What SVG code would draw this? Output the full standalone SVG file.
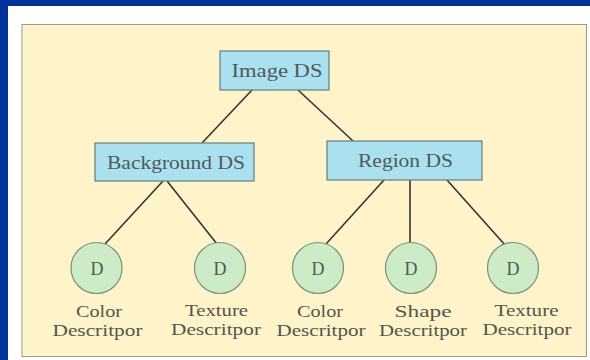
<svg xmlns="http://www.w3.org/2000/svg" width="590" height="360" viewBox="0 0 590 360">
<style>
.box{fill:#abe0ee;stroke:#5f7f86;stroke-width:1.2}
.circ{fill:#cdebc6;stroke:#7a8f80;stroke-width:1.2}
.t{font-family:"Liberation Serif","Times New Roman",serif;font-size:19px;fill:#4f5a5c;text-anchor:middle}
.l{font-family:"Liberation Serif","Times New Roman",serif;font-size:17px;fill:#55554d;text-anchor:middle}
.c line{stroke:#333;stroke-width:1.6}
</style>
<rect x="0" y="0" width="590" height="360" fill="#003399"/>
<rect x="8" y="6" width="582" height="354" fill="#ffffff"/>
<rect x="22" y="24.5" width="564.5" height="332" fill="#fff4c9" stroke="#9a9a90" stroke-width="1"/>
<g class="c" id="connectors">
<line x1="252" y1="90" x2="202" y2="143"/>
<line x1="298" y1="90" x2="353" y2="141"/>
<line x1="163" y1="181" x2="105" y2="244"/>
<line x1="167" y1="181" x2="217" y2="244"/>
<line x1="384" y1="180" x2="326" y2="244"/>
<line x1="410" y1="180" x2="410" y2="243"/>
<line x1="447" y1="180" x2="505" y2="245"/>
</g>
<g id="image-ds"><rect class="box" x="220" y="51" width="109" height="39"/><text class="t" x="277" y="77" textLength="91" lengthAdjust="spacingAndGlyphs">Image DS</text></g>
<g id="background-ds"><rect class="box" x="95" y="143" width="159" height="38"/><text class="t" x="176" y="168.5" textLength="138" lengthAdjust="spacingAndGlyphs">Background DS</text></g>
<g id="region-ds"><rect class="box" x="327" y="141" width="155" height="39"/><text class="t" x="405.5" y="167" textLength="95" lengthAdjust="spacingAndGlyphs">Region DS</text></g>
<g id="d1"><circle class="circ" cx="96.5" cy="268" r="25.5"/><text class="t" x="97" y="274.5" textLength="13" lengthAdjust="spacingAndGlyphs">D</text><text class="l" x="99" y="317" textLength="46" lengthAdjust="spacingAndGlyphs">Color</text><text class="l" x="97.5" y="336" textLength="90" lengthAdjust="spacingAndGlyphs">Descritpor</text></g>
<g id="d2"><circle class="circ" cx="220" cy="268" r="25.5"/><text class="t" x="220" y="274.5" textLength="13" lengthAdjust="spacingAndGlyphs">D</text><text class="l" x="216.5" y="316" textLength="63" lengthAdjust="spacingAndGlyphs">Texture</text><text class="l" x="216" y="335" textLength="90" lengthAdjust="spacingAndGlyphs">Descritpor</text></g>
<g id="d3"><circle class="circ" cx="318" cy="268" r="25.5"/><text class="t" x="318" y="274.5" textLength="13" lengthAdjust="spacingAndGlyphs">D</text><text class="l" x="320" y="317" textLength="46" lengthAdjust="spacingAndGlyphs">Color</text><text class="l" x="321" y="336" textLength="89" lengthAdjust="spacingAndGlyphs">Descritpor</text></g>
<g id="d4"><circle class="circ" cx="411" cy="268" r="25.5"/><text class="t" x="411" y="274.5" textLength="13" lengthAdjust="spacingAndGlyphs">D</text><text class="l" x="423" y="317" textLength="57" lengthAdjust="spacingAndGlyphs">Shape</text><text class="l" x="423" y="336" textLength="88" lengthAdjust="spacingAndGlyphs">Descritpor</text></g>
<g id="d5"><circle class="circ" cx="513" cy="268" r="25.5"/><text class="t" x="513" y="274.5" textLength="13" lengthAdjust="spacingAndGlyphs">D</text><text class="l" x="526.5" y="316" textLength="64" lengthAdjust="spacingAndGlyphs">Texture</text><text class="l" x="527" y="335" textLength="89" lengthAdjust="spacingAndGlyphs">Descritpor</text></g>
</svg>
